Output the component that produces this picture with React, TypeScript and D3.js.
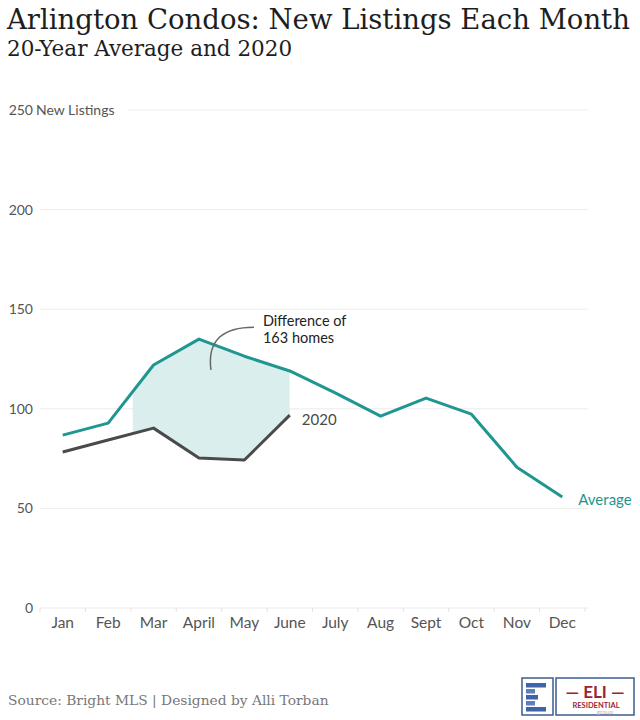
import React from "react";
import * as d3 from "d3";

// values
const months = ["Jan", "Feb", "Mar", "April", "May", "June", "July", "Aug", "Sept", "Oct", "Nov", "Dec"];
const average = [86.8, 92.8, 122, 135, 126.4, 119, 108, 96.3, 105.4, 97.3, 70.7, 55.7];
const listings2020 = [78.3, 84.3, 90.3, 75.3, 74.3, 96.8];
const yTicks = [0, 50, 100, 150, 200, 250];

const TEAL = "#1f968f";
const DARK = "#4a4a4a";
const LABEL = "#555";
const SANS = "Lato, 'Open Sans', sans-serif";
const SERIF = "'DejaVu Serif', serif";

const width = 640;
const height = 720;

const App: React.FC = () => {
  const x = d3.scaleBand<string>().domain(months).range([40, 585]);
  const cx = (m: string) => (x(m) ?? 0) + x.bandwidth() / 2;
  const y = d3.scaleLinear().domain([0, 250]).range([608, 110]);

  const avgLine = d3
    .line<number>()
    .x((_, i) => cx(months[i]))
    .y((d) => y(d));

  const diff = listings2020.map((v, i) => ({ m: months[i], lo: v, hi: average[i] }));
  const area = d3
    .area<{ m: string; lo: number; hi: number }>()
    .x((d) => cx(d.m))
    .y0((d) => y(d.lo))
    .y1((d) => y(d.hi));

  // shading starts at the Feb/Mar boundary and ends at June
  const clipX0 = (x("Mar") ?? 0) + 2;
  const clipX1 = cx("June");

  const aprX = cx("April");
  const lastIdx = listings2020.length - 1;

  return (
    <>
      <style>{`body{margin:0}`}</style>
      <svg width={width} height={height} style={{ display: "block", background: "#fff" }}>
        <defs>
          <clipPath id="diffClip">
            <rect x={clipX0} y={0} width={clipX1 - clipX0} height={height} />
          </clipPath>
        </defs>

        <text x={7} y={29} fontFamily={SERIF} fontSize={27.5} fill="#1e1e1e">
          Arlington Condos: New Listings Each Month
        </text>
        <text x={7} y={56} fontFamily={SERIF} fontSize={21.5} fill="#1e1e1e">
          20-Year Average and 2020
        </text>

        {/* gridlines + y labels */}
        {yTicks.map((t, i) => (
          <g key={t}>
            <line
              x1={i === yTicks.length - 1 ? 128 : 40}
              x2={588}
              y1={y(t)}
              y2={y(t)}
              stroke="#ececec"
              strokeWidth={1}
            />
            <text x={33} y={y(t) + 5} textAnchor="end" fontFamily={SANS} fontSize={14} fill={LABEL}>
              {t}
            </text>
          </g>
        ))}
        <text x={36} y={y(250) + 5} fontFamily={SANS} fontSize={14} fill={LABEL}>
          New Listings
        </text>

        {/* x ticks and labels */}
        {months.map((m) => (
          <line key={"t" + m} x1={x(m)} x2={x(m)} y1={y(0)} y2={y(0) + 4} stroke="#e2e2e2" />
        ))}
        <line x1={x("Dec")! + x.bandwidth()} x2={x("Dec")! + x.bandwidth()} y1={y(0)} y2={y(0) + 4} stroke="#e2e2e2" />
        {months.map((m) => (
          <text key={m} x={cx(m)} y={y(0) + 20} textAnchor="middle" fontFamily={SANS} fontSize={15.5} fill={LABEL}>
            {m}
          </text>
        ))}

        {/* difference shading */}
        <path d={area(diff) ?? ""} fill="#daeeee" clipPath="url(#diffClip)" />

        <path d={avgLine(average) ?? ""} fill="none" stroke={TEAL} strokeWidth={3} strokeLinejoin="round" />
        <path d={avgLine(listings2020) ?? ""} fill="none" stroke={DARK} strokeWidth={3} strokeLinejoin="round" />

        <text x={cx(months[lastIdx]) + 12} y={y(listings2020[lastIdx]) + 10} fontFamily={SANS} fontSize={15} fill={DARK}>
          2020
        </text>
        <text x={cx("Dec") + 16} y={y(average[11]) + 8} fontFamily={SANS} fontSize={15} fill={TEAL}>
          Average
        </text>

        {/* annotation */}
        <path
          d={`M ${aprX + 12} ${y(120) + 1} C ${aprX + 8} ${y(135)}, ${aprX + 25} ${y(141)}, ${aprX + 55} ${y(141)}`}
          fill="none"
          stroke="#666"
          strokeWidth={1.5}
        />
        <text x={aprX + 64} y={y(142) + 1} fontFamily={SANS} fontSize={14.5} fill="#222">
          <tspan>Difference of</tspan>
          <tspan x={aprX + 64} dy={17}>163 homes</tspan>
        </text>

        {/* footer */}
        <text x={8} y={705} fontFamily={SERIF} fontSize={13.8} fill="#777">
          Source: Bright MLS | Designed by Alli Torban
        </text>

        {/* logo */}
        <g>
          <rect x={522} y={678} width={31} height={37} fill="#fff" stroke="#3e5c8f" strokeWidth={1.5} />
          {[0, 1, 2, 3, 4].map((k) => (
            <rect
              key={k}
              x={526}
              y={683 + k * 6}
              width={k % 2 === 0 ? (k === 2 ? 12 : 20) : 9}
              height={4.5}
              fill={k % 2 === 0 ? "#3f63a8" : "#5c7fc0"}
            />
          ))}
          <rect x={556} y={678} width={78} height={37} fill="#fff" stroke="#3e5c8f" strokeWidth={1.5} />
          <text x={595} y={698} textAnchor="middle" fontFamily={SANS} fontSize={17} fontWeight="bold" fill="#9b2335">
            — ELI —
          </text>
          <text x={596} y={707.5} textAnchor="middle" fontFamily={SANS} fontSize={7.5} fontWeight="bold" fill="#9b2335">
            RESIDENTIAL
          </text>
          <text x={605} y={714} textAnchor="middle" fontFamily={SANS} fontSize={6.5} fill="#bbb">
            group
          </text>
        </g>
      </svg>
    </>
  );
};

export default App;
